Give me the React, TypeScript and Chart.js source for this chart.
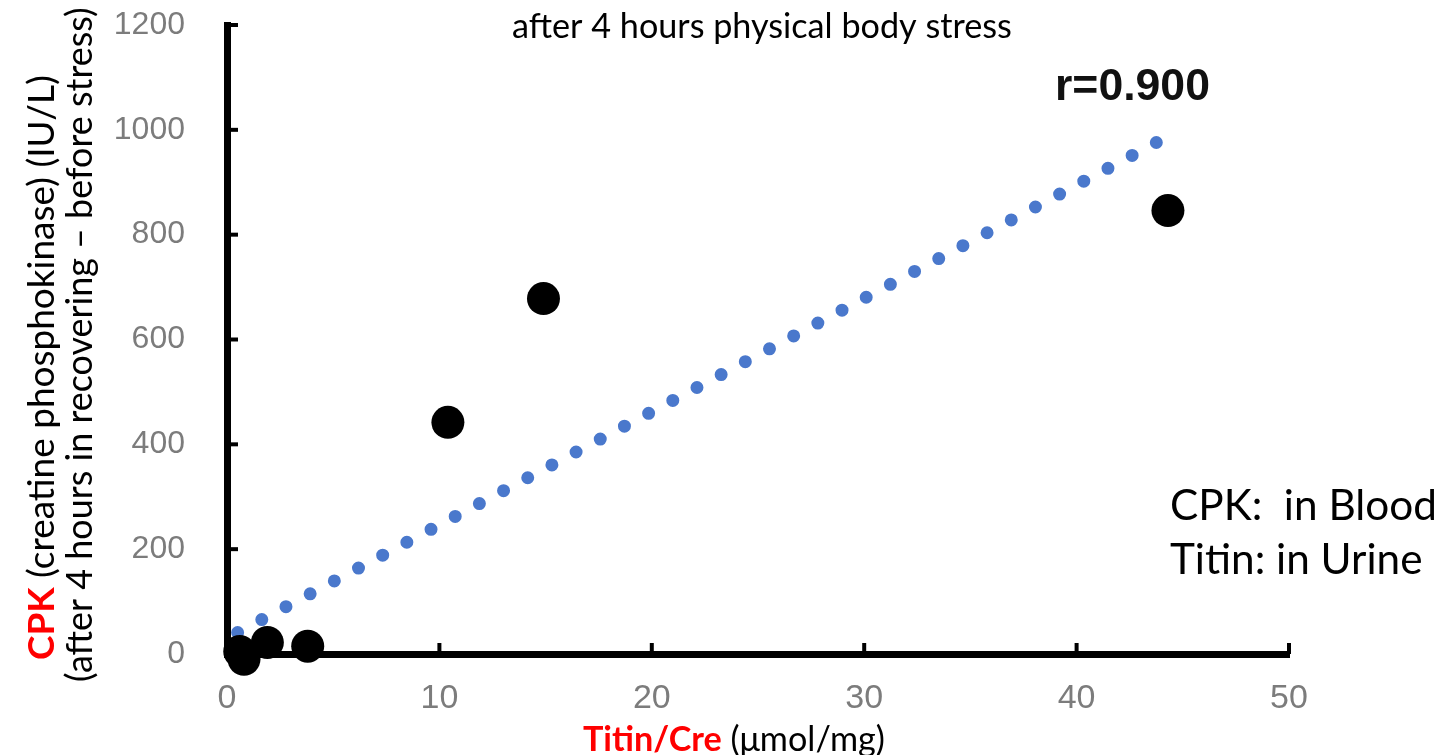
import React, { useEffect, useRef } from "react";
import { Chart, registerables } from "chart.js";

Chart.register(...registerables);

// ---- data ----
const titinX = [0.6, 0.8, 1.9, 3.8, 10.4, 14.9, 44.3];
const cpkY = [5, -10, 22, 15, 442, 678, 846];
const trendX = [0.5, 43.9];
const trendY = [41, 979];
const xTickValues = [0, 10, 20, 30, 40, 50];
const yTickValues = [0, 200, 400, 600, 800, 1000, 1200];

const chartTitle = "after 4 hours physical body stress";
const correlationLabel = "r=0.900";
const yTitleRed = "CPK";
const yTitleRest = " (creatine phosphokinase) (IU/L)";
const yTitleLine2 = "(after 4 hours in recovering – before stress)";
const xTitleRed = "Titin/Cre";
const xTitleRest = " (μmol/mg)";
const noteLines = ["CPK:  in Blood", "Titin: in Urine"];

// ---- styles ----
const HUMANIST = "Lato, 'Open Sans', sans-serif";
const TICK_FONT = "'Liberation Sans', Arial, sans-serif";
const TICK_COLOR = "#7c7c7c";
const TREND_COLOR = "#4a78cc";

type Part = { text: string; weight: string; color: string };

function fitSize(ctx: CanvasRenderingContext2D, parts: Part[], family: string, target: number) {
  let w = 0;
  for (const p of parts) {
    ctx.font = `${p.weight} 100px ${family}`;
    w += ctx.measureText(p.text).width;
  }
  return (100 * target) / w;
}

function drawParts(ctx: CanvasRenderingContext2D, parts: Part[], family: string, size: number) {
  let x = 0;
  for (const p of parts) {
    ctx.font = `${p.weight} ${size}px ${family}`;
    ctx.fillStyle = p.color;
    ctx.fillText(p.text, x, 0);
    x += ctx.measureText(p.text).width;
  }
}

function drawLine(
  ctx: CanvasRenderingContext2D,
  parts: Part[],
  family: string,
  width: number,
  x: number,
  y: number,
  rotate = false
) {
  const size = fitSize(ctx, parts, family, width);
  ctx.save();
  ctx.translate(x, y);
  if (rotate) ctx.rotate(-Math.PI / 2);
  ctx.textAlign = "left";
  ctx.textBaseline = "middle";
  drawParts(ctx, parts, family, size);
  ctx.restore();
  return size;
}

const annotationPlugin = {
  id: "annotations",
  beforeDatasetsDraw(chart: any) {
    const { ctx, chartArea, scales } = chart;
    ctx.save();
    ctx.strokeStyle = "#000";
    ctx.lineWidth = 4;
    ctx.lineCap = "butt";
    for (const t of scales.y.ticks) {
      if (t.value === 0) continue;
      const py = scales.y.getPixelForValue(t.value);
      ctx.beginPath();
      ctx.moveTo(chartArea.left, py);
      ctx.lineTo(chartArea.left + 11, py);
      ctx.stroke();
    }
    for (const t of scales.x.ticks) {
      if (t.value === 0) continue;
      const px = scales.x.getPixelForValue(t.value);
      ctx.beginPath();
      ctx.moveTo(px, chartArea.bottom);
      ctx.lineTo(px, chartArea.bottom - 11);
      ctx.stroke();
    }
    ctx.restore();
  },
  afterDraw(chart: any) {
    const { ctx } = chart;
    drawLine(ctx, [{ text: chartTitle, weight: "normal", color: "#000" }], HUMANIST, 500, 512, 27);
    drawLine(ctx, [{ text: correlationLabel, weight: "bold", color: "#111" }], TICK_FONT, 155, 1055, 88);
    drawLine(
      ctx,
      [
        { text: yTitleRed, weight: "bold", color: "#ff0000" },
        { text: yTitleRest, weight: "normal", color: "#000" },
      ],
      HUMANIST,
      585,
      42,
      660,
      true
    );
    drawLine(ctx, [{ text: yTitleLine2, weight: "normal", color: "#000" }], HUMANIST, 675, 80, 682, true);
    drawLine(
      ctx,
      [
        { text: xTitleRed, weight: "bold", color: "#ff0000" },
        { text: xTitleRest, weight: "normal", color: "#000" },
      ],
      HUMANIST,
      302,
      583,
      740
    );
    const s = fitSize(ctx, [{ text: noteLines[0], weight: "normal", color: "#000" }], HUMANIST, 267);
    ctx.save();
    ctx.textAlign = "left";
    ctx.textBaseline = "middle";
    ctx.fillStyle = "#000";
    ctx.font = `normal ${s}px ${HUMANIST}`;
    ctx.fillText(noteLines[0], 1170, 506);
    ctx.fillText(noteLines[1], 1170, 560);
    ctx.restore();
  },
};

export default function App() {
  const ref = useRef<HTMLCanvasElement | null>(null);

  useEffect(() => {
    if (!ref.current) return;
    const points = titinX.map((x, i) => ({ x, y: cpkY[i] }));
    const trend = trendX.map((x, i) => ({ x, y: trendY[i] }));
    const chart = new Chart(ref.current, {
      type: "scatter",
      data: {
        datasets: [
          {
            label: "CPK vs Titin/Cre",
            data: points,
            backgroundColor: "#000",
            borderColor: "#000",
            borderWidth: 0,
            pointRadius: 16.5,
            pointHoverRadius: 16.5,
            clip: false,
          } as any,
          {
            label: "trend",
            data: trend,
            showLine: true,
            borderColor: TREND_COLOR,
            backgroundColor: TREND_COLOR,
            borderWidth: 13,
            borderDash: [0, 27.4],
            borderCapStyle: "round",
            pointRadius: 0,
            fill: false,
            tension: 0,
            clip: false,
          } as any,
        ],
      },
      options: {
        animation: false,
        responsive: false,
        events: [],
        layout: { padding: { top: 25, right: 152, bottom: 0, left: 0 } },
        plugins: {
          legend: { display: false },
          tooltip: { enabled: false },
          title: { display: false },
        },
        scales: {
          x: {
            type: "linear",
            min: 0,
            max: 50,
            afterBuildTicks: (s: any) => {
              s.ticks = xTickValues.map((v) => ({ value: v }));
            },
            afterFit: (s: any) => {
              s.height = 101;
              s.paddingLeft = 0;
              s.paddingRight = 0;
            },
            ticks: {
              color: TICK_COLOR,
              font: { family: TICK_FONT, size: 34 },
              padding: 24,
              maxRotation: 0,
              callback: (v: any) => String(v),
            },
            grid: { display: false, drawTicks: false },
            border: { display: true, color: "#000", width: 7 },
          },
          y: {
            type: "linear",
            min: 0,
            max: 1200,
            afterBuildTicks: (s: any) => {
              s.ticks = yTickValues.map((v) => ({ value: v }));
            },
            afterFit: (s: any) => {
              s.width = 227;
              s.paddingTop = 0;
              s.paddingBottom = 0;
            },
            ticks: {
              color: TICK_COLOR,
              font: { family: TICK_FONT, size: 32 },
              padding: 42,
              callback: (v: any) => String(v),
            },
            grid: { display: false, drawTicks: false },
            border: { display: true, color: "#000", width: 7 },
          },
        },
      },
      plugins: [annotationPlugin],
    });
    return () => chart.destroy();
  }, []);

  return (
    <div style={{ position: "fixed", left: 0, top: 0, width: 1441, height: 755, background: "#fff" }}>
      <canvas ref={ref} width={1441} height={755} style={{ display: "block" }} />
    </div>
  );
}
